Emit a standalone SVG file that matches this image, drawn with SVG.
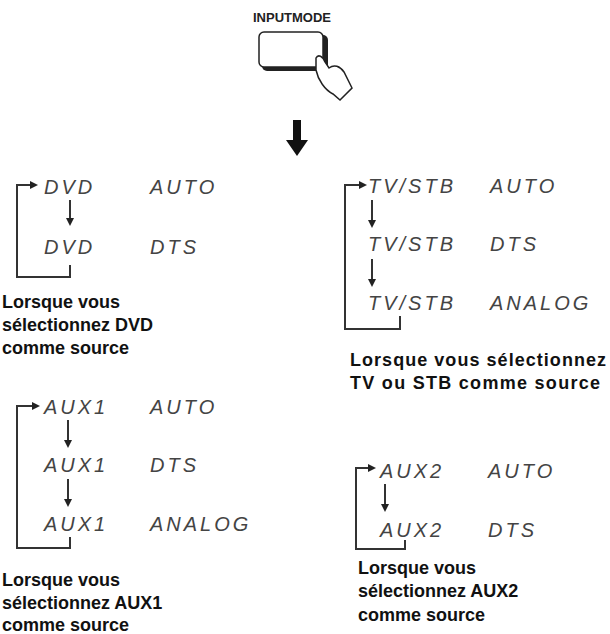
<svg xmlns="http://www.w3.org/2000/svg" width="610" height="634" viewBox="0 0 610 634">
<defs>
<marker id="ah" markerWidth="8" markerHeight="8" refX="6" refY="4" orient="auto" markerUnits="userSpaceOnUse"><path d="M0,0 L8,4 L0,8 Z" fill="#222"/></marker>
</defs>
<style>
.lcd{font-family:"Liberation Sans",Arial,sans-serif;font-style:italic;font-size:20px;fill:#444;letter-spacing:3px}
.lbl{font-family:"Liberation Sans",Arial,sans-serif;font-weight:bold;font-size:18px;fill:#111}
.ln{fill:none;stroke:#333;stroke-width:2}
</style>
<rect width="610" height="634" fill="#fff"/>
<g id="button">
<text x="292" y="22" text-anchor="middle" font-family="Liberation Sans,Arial,sans-serif" font-weight="bold" font-size="13" fill="#222">INPUTMODE</text>
<rect x="262" y="35" width="66" height="36" rx="5" fill="#222"/>
<rect x="259" y="32" width="64" height="35" rx="5" fill="#fff" stroke="#222" stroke-width="1.5"/>
<path d="M316,58 C318,54 323,56 325,62 L329,68 C334,64 340,66 344,72 L352,88 L340,100 L333,94 C325,90 318,80 316,70 Z" fill="#fff" stroke="#222" stroke-width="1.5"/>
</g>
<g id="bigarrow"><path d="M293,120 L301,120 L301,140 L308,140 L297,156 L286,140 L293,140 Z" fill="#111"/></g>
<g id="connectors">
<path class="ln" d="M70,265 V277 H17 V185 H36" marker-end="url(#ah)"/>
<line class="ln" x1="70" y1="200" x2="70" y2="224" marker-end="url(#ah)"/>
<path class="ln" d="M400,316 V329 H345 V185 H365" marker-end="url(#ah)"/>
<line class="ln" x1="372" y1="200" x2="372" y2="226" marker-end="url(#ah)"/>
<line class="ln" x1="372" y1="259" x2="372" y2="285" marker-end="url(#ah)"/>
<path class="ln" d="M70,537 V548 H17 V406 H38" marker-end="url(#ah)"/>
<line class="ln" x1="68" y1="420" x2="68" y2="446" marker-end="url(#ah)"/>
<line class="ln" x1="68" y1="479" x2="68" y2="505" marker-end="url(#ah)"/>
<path class="ln" d="M405,540 V549 H356 V468 H374" marker-end="url(#ah)"/>
<line class="ln" x1="385" y1="484" x2="385" y2="510" marker-end="url(#ah)"/>
</g>
<g id="dvd">
<text class="lcd" x="44" y="194">DVD</text><text class="lcd" x="150" y="194">AUTO</text>
<text class="lcd" x="44" y="254">DVD</text><text class="lcd" x="150" y="254">DTS</text>
<text class="lbl" x="2" y="308">Lorsque vous</text><text class="lbl" x="2" y="331">sélectionnez DVD</text><text class="lbl" x="2" y="354">comme source</text>
</g>
<g id="tvstb">
<text class="lcd" x="368" y="193">TV/STB</text><text class="lcd" x="490" y="193">AUTO</text>
<text class="lcd" x="368" y="251">TV/STB</text><text class="lcd" x="490" y="251">DTS</text>
<text class="lcd" x="368" y="310">TV/STB</text><text class="lcd" x="490" y="310">ANALOG</text>
<text class="lbl" x="350" y="366" textLength="256">Lorsque vous sélectionnez</text><text class="lbl" x="350" y="389" textLength="250">TV ou STB comme source</text>
</g>
<g id="aux1">
<text class="lcd" x="44" y="414">AUX1</text><text class="lcd" x="150" y="414">AUTO</text>
<text class="lcd" x="44" y="472">AUX1</text><text class="lcd" x="150" y="472">DTS</text>
<text class="lcd" x="44" y="531">AUX1</text><text class="lcd" x="150" y="531">ANALOG</text>
<text class="lbl" x="2" y="586">Lorsque vous</text><text class="lbl" x="2" y="609">sélectionnez AUX1</text><text class="lbl" x="2" y="631">comme source</text>
</g>
<g id="aux2">
<text class="lcd" x="380" y="478">AUX2</text><text class="lcd" x="488" y="478">AUTO</text>
<text class="lcd" x="380" y="537">AUX2</text><text class="lcd" x="488" y="537">DTS</text>
<text class="lbl" x="358" y="574">Lorsque vous</text><text class="lbl" x="358" y="597">sélectionnez AUX2</text><text class="lbl" x="358" y="621">comme source</text>
</g>
</svg>
